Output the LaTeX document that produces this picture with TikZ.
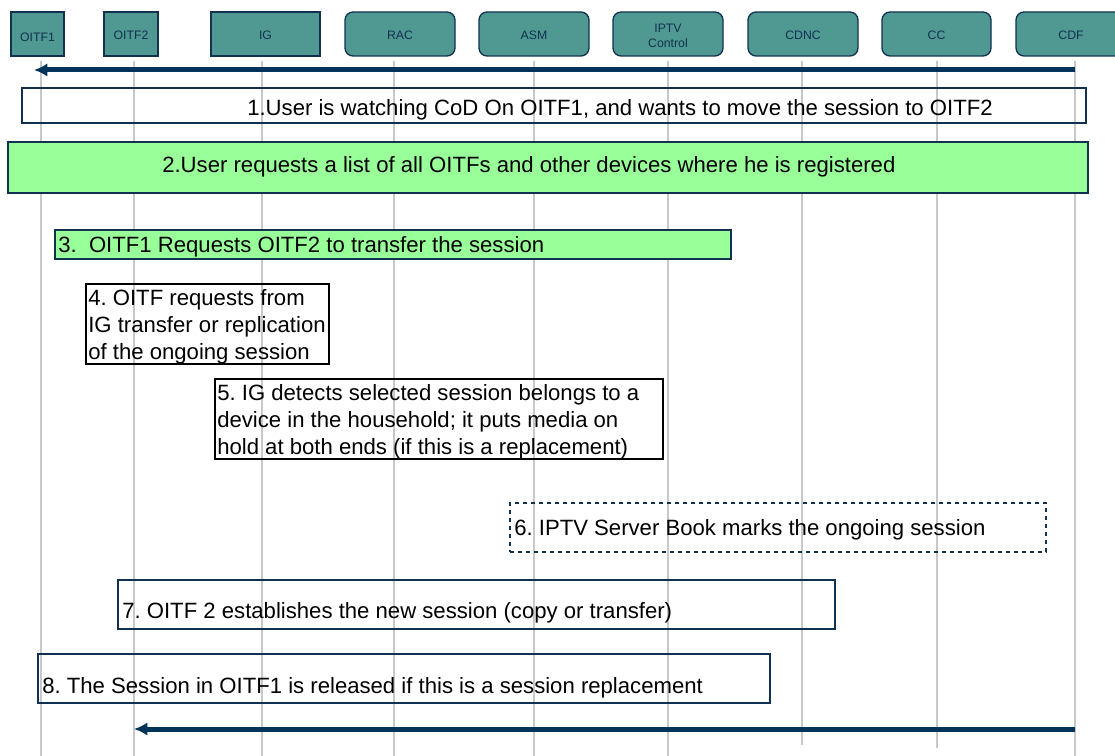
\documentclass[tikz,border=0pt]{standalone}
\usepackage{fontspec}
\setmainfont{Liberation Sans}
\frenchspacing
\usetikzlibrary{arrows.meta,fit}
\definecolor{hdrTeal}{RGB}{80,152,146}
\definecolor{hdrNavy}{RGB}{16,50,80}
\definecolor{msgNavy}{RGB}{0,51,89}
\definecolor{stepGreen}{RGB}{153,255,153}
\definecolor{lifeGray}{RGB}{200,200,200}
\newcommand{\hdrlow}[2]{\raisebox{-#1}[\height][0pt]{#2}}
\tikzset{
  hdr/.style={draw=hdrNavy, fill=hdrTeal, line width=1pt, text=hdrNavy,
    font=\fontsize{9.2}{11}\selectfont, inner sep=0pt, align=center},
  hdrround/.style={hdr, rounded corners=6pt},
  life/.style={lifeGray, line width=1pt},
  msg/.style={msgNavy, line width=3.75pt, -{Latex[length=10pt,width=10pt]}},
  stepbox/.style={draw=hdrNavy, line width=1pt, inner sep=0pt},
  steptxt/.style={font=\fontsize{16.6}{20}\selectfont, inner sep=0pt,
    anchor=base west, align=left},
}

\begin{document}
\begin{tikzpicture}[x=0.75pt,y=-0.75pt]
    \useasboundingbox (0,0) rectangle (1115,756);

    % Header boxes
    \node[hdr, fit={(11,12) (64,56)}] (oitf1) {\hdrlow{6pt}{OITF1}};
    \node[hdr, fit={(104,12) (158,56)}] (oitf2) {\hdrlow{4pt}{OITF2}};
    \node[hdr, fit={(211,12) (320,56)}] (ig) {\hdrlow{4pt}{IG}};
    \node[hdrround, fit={(345,12) (455,56)}] (rac) {\hdrlow{4pt}{RAC}};
    \node[hdrround, fit={(479,12) (589,56)}] (asm) {\hdrlow{4pt}{ASM}};
    \node[hdrround, fit={(613,12) (723,56)}] (iptv)
        {\hdrlow{4.5pt}{\begin{tabular}{@{}c@{}}IPTV\\Control\end{tabular}}};
    \node[hdrround, fit={(748,12) (858,56)}] (cdnc) {\hdrlow{4pt}{CDNC}};
    \node[hdrround, fit={(882,12) (991,56)}] (cc) {\hdrlow{4pt}{CC}};
    \node[hdrround, fit={(1016,12) (1126,56)}] (cdf) {\hdrlow{4pt}{CDF}};

    % Lifelines
    \coordinate (oitf1b) at (41,756);
    \coordinate (oitf2b) at (134,756);
    \coordinate (igb) at (262,756);
    \coordinate (racb) at (394,756);
    \coordinate (asmb) at (534,756);
    \coordinate (iptvb) at (668,756);
    \coordinate (cdncb) at (802,745);
    \coordinate (ccb) at (937,748);
    \coordinate (cdfb) at (1075,756);
    \draw[life] ([yshift=-3pt]oitf1b |- oitf1.south) -- (oitf1b);
    \draw[life] ([yshift=-3pt]oitf2b |- oitf2.south) -- (oitf2b);
    \draw[life] ([yshift=-3pt]igb |- ig.south) -- (igb);
    \draw[life] ([yshift=-3pt]racb |- rac.south) -- (racb);
    \draw[life] ([yshift=-3pt]asmb |- asm.south) -- (asmb);
    \draw[life] ([yshift=-3pt]iptvb |- iptv.south) -- (iptvb);
    \draw[life] ([yshift=-3pt]cdncb |- cdnc.south) -- (cdncb);
    \draw[life] ([yshift=-3pt]ccb |- cc.south) -- (ccb);
    \draw[life] ([yshift=-3pt]cdfb |- cdf.south) -- (cdfb);

    % Step boxes
    \node[stepbox, fit={(22,88) (1086,123)}] (box1) {};
    \node[stepbox, fill=stepGreen, fit={(8,142) (1088,193)}] (box2) {};
    \node[stepbox, fill=stepGreen, fit={(55,230) (731,259)}] (box3) {};
    \node[stepbox, draw=black, fit={(86,284) (329,364)}] (box4) {};
    \node[stepbox, draw=black, fit={(215,379) (663,459)}] (box5) {};
    \node[stepbox, dashed, fit={(510,503) (1046,552)}] (box6) {};
    \node[stepbox, fit={(118,580) (835,629)}] (box7) {};
    \node[stepbox, fit={(38,654) (770,703)}] (box8) {};

    \node[steptxt] (txt1) at (247,116) {1.User is watching CoD On OITF1, and wants to move the session to OITF2};
    \node[steptxt] (txt2) at (162,173) {2.User requests a list of all OITFs and other devices where he is registered};
    \node[steptxt] (txt3) at (58,253) {3.\ \ OITF1 Requests OITF2 to transfer the session};
    \node[steptxt] (txt4) at (88,359) {4. OITF requests from\\IG transfer or replication\\of the ongoing session};
    \node[steptxt] (txt5) at (217,454) {5. IG detects selected session belongs to a\\device in the household; it puts media on\\hold at both ends (if this is a replacement)};
    \node[steptxt] (txt6) at (514,535) {6. IPTV Server Book marks the ongoing session};
    \node[steptxt] (txt7) at (122,618) {7. OITF 2 establishes the new session (copy or transfer)};
    \node[steptxt] (txt8) at (42,693) {8. The Session in OITF1 is released if this is a session replacement};

    % Messages
    \coordinate (msg1s) at (1075,70);
    \coordinate (msg1e) at (34,70);
    \coordinate (msg2s) at (1075,729);
    \coordinate (msg2e) at (134,729);
    \draw[msg] (msg1s) -- (msg1e);
    \draw[msg] (msg2s) -- (msg2e);

\end{tikzpicture}
\end{document}
